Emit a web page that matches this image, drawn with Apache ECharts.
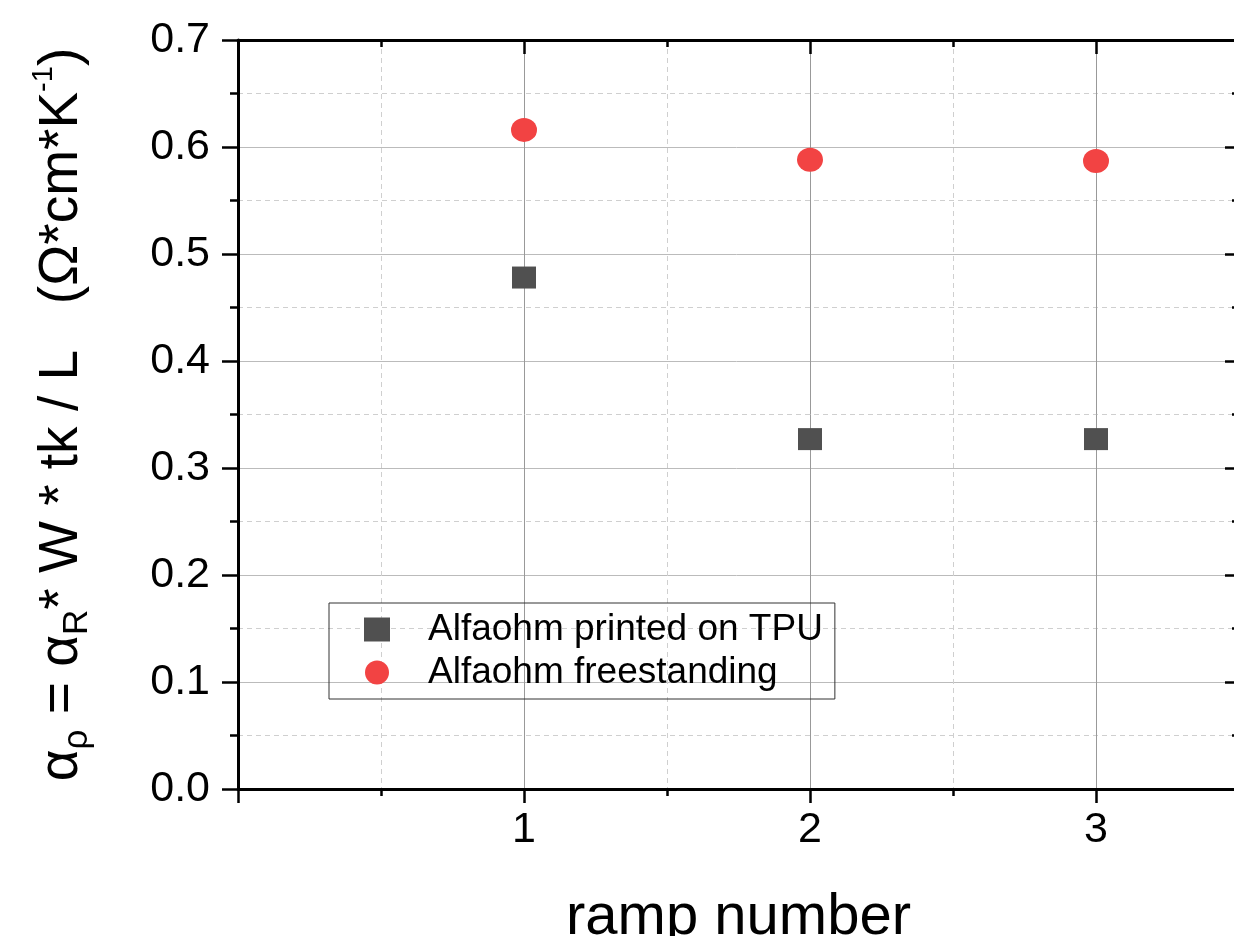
<!DOCTYPE html>
<html>
<head>
<meta charset="utf-8">
<script src="https://cdn.jsdelivr.net/npm/echarts@6/dist/echarts.min.js"></script>
<style>
  html, body { margin: 0; padding: 0; background: #fff; }
  #chart { width: 1234px; height: 936px; }
</style>
</head>
<body>
<div id="chart"></div>
<script>
  // ramp number on x, alpha_rho on y
  var ramps = [1, 2, 3];
  var printedTPU = [0.478, 0.327, 0.327];
  var freestanding = [0.616, 0.588, 0.587];
  var seriesNames = ['Alfaohm printed on TPU', 'Alfaohm freestanding'];

  var font = 'Liberation Sans, Arial, sans-serif';

  function pairs(xs, ys) {
    return xs.map(function (x, i) { return [x, ys[i]]; });
  }

  var chart = echarts.init(document.getElementById('chart'));

  var xBase = { type: 'value', min: 0, max: 3.5, gridIndex: 0 };

  chart.setOption({
    animation: false,
    backgroundColor: '#fff',
    grid: { left: 238, top: 40, width: 1001, height: 749, outerBoundsMode: 'none' },
    legend: {
      data: seriesNames,
      orient: 'vertical',
      align: 'left',
      left: 329,
      top: 603,
      itemWidth: 26,
      itemHeight: 24,
      itemGap: 6,
      padding: [8, 12, 8, 35],
      borderColor: '#333',
      borderWidth: 1,
      textStyle: { fontFamily: font, fontSize: 37, color: '#000', lineHeight: 36, padding: [0, 0, 0, 33] }
    },
    xAxis: [
      // minor ticks + labels
      Object.assign({}, xBase, {
        position: 'bottom',
        interval: 0.5,
        name: 'ramp number',
        nameLocation: 'middle',
        nameGap: 100,
        nameTextStyle: { fontFamily: font, fontSize: 58, color: '#000' },
        axisLine: { show: true, onZero: false, lineStyle: { color: '#000', width: 3 } },
        axisTick: { show: true, length: 7, lineStyle: { color: '#000', width: 2.5 } },
        axisLabel: {
          show: true, margin: 20, fontFamily: font, fontSize: 43, color: '#000',
          showMaxLabel: false,
          formatter: function (v) { return (v > 0 && v % 1 === 0) ? String(v) : ''; }
        },
        splitLine: { show: true, lineStyle: { color: '#cfcfcf', width: 1, type: [5, 4] } }
      }),
      // major ticks
      Object.assign({}, xBase, {
        position: 'bottom',
        interval: 1,
        axisLine: { show: false, onZero: false },
        axisTick: { show: true, length: 14, lineStyle: { color: '#000', width: 2.5 } },
        axisLabel: { show: false },
        splitLine: { show: true, lineStyle: { color: '#999', width: 1 } }
      }),
      // top minor
      Object.assign({}, xBase, {
        position: 'top',
        interval: 0.5,
        axisLine: { show: true, onZero: false, lineStyle: { color: '#000', width: 3 } },
        axisTick: { show: true, inside: true, length: 7, lineStyle: { color: '#000', width: 2.5 } },
        axisLabel: { show: false },
        splitLine: { show: false }
      }),
      // top major
      Object.assign({}, xBase, {
        position: 'top',
        interval: 1,
        axisLine: { show: false, onZero: false },
        axisTick: { show: true, inside: true, length: 14, lineStyle: { color: '#000', width: 2.5 } },
        axisLabel: { show: false },
        splitLine: { show: false }
      })
    ],
    yAxis: [
      {
        type: 'value',
        min: 0,
        max: 0.7,
        interval: 0.1,
        position: 'left',
        name: '{a|α}{sub|ρ}{a| = α}{sub|R}{a|* W * tk / L   (Ω*cm*K}{sup|-1}{a|)}',
        nameLocation: 'middle',
        nameRotate: 90,
        nameGap: 143,
        nameTextStyle: {
          fontFamily: font,
          color: '#000',
          rich: {
            a: { fontFamily: font, fontSize: 55, lineHeight: 66, color: '#000', verticalAlign: 'middle' },
            sub: { fontFamily: font, fontSize: 35, lineHeight: 35, color: '#000', verticalAlign: 'bottom' },
            sup: { fontFamily: font, fontSize: 29, lineHeight: 29, color: '#000', verticalAlign: 'top' }
          }
        },
        axisLine: { show: true, onZero: false, lineStyle: { color: '#000', width: 3 } },
        axisTick: { show: true, length: 16, lineStyle: { color: '#000', width: 2.5 } },
        minorTick: { show: true, splitNumber: 2, length: 8, lineStyle: { color: '#000', width: 2.5 } },
        axisLabel: {
          show: true, margin: 28, fontFamily: font, fontSize: 43, color: '#000',
          formatter: function (v) { return v.toFixed(1); }
        },
        splitLine: { show: true, lineStyle: { color: '#bbb', width: 1 } },
        minorSplitLine: { show: true, lineStyle: { color: '#cfcfcf', width: 1, type: [5, 4] } }
      },
      {
        type: 'value',
        min: 0,
        max: 0.7,
        interval: 0.1,
        position: 'right',
        axisLine: { show: true, onZero: false, lineStyle: { color: '#000', width: 3 } },
        axisTick: { show: true, inside: true, length: 14, lineStyle: { color: '#000', width: 2.5 } },
        minorTick: { show: true, splitNumber: 2, length: 7, lineStyle: { color: '#000', width: 2.5 } },
        axisLabel: { show: false },
        splitLine: { show: false }
      }
    ],
    series: [
      {
        name: seriesNames[0],
        type: 'scatter',
        xAxisIndex: 0,
        yAxisIndex: 0,
        symbol: 'rect',
        symbolSize: [24, 22],
        itemStyle: { color: '#505050', opacity: 1 },
        data: pairs(ramps, printedTPU),
        z: 5
      },
      {
        name: seriesNames[1],
        type: 'scatter',
        xAxisIndex: 0,
        yAxisIndex: 0,
        symbol: 'circle',
        symbolSize: [26, 24],
        itemStyle: { color: '#F24343', opacity: 1 },
        data: pairs(ramps, freestanding),
        z: 5
      }
    ]
  });
</script>
</body>
</html>
